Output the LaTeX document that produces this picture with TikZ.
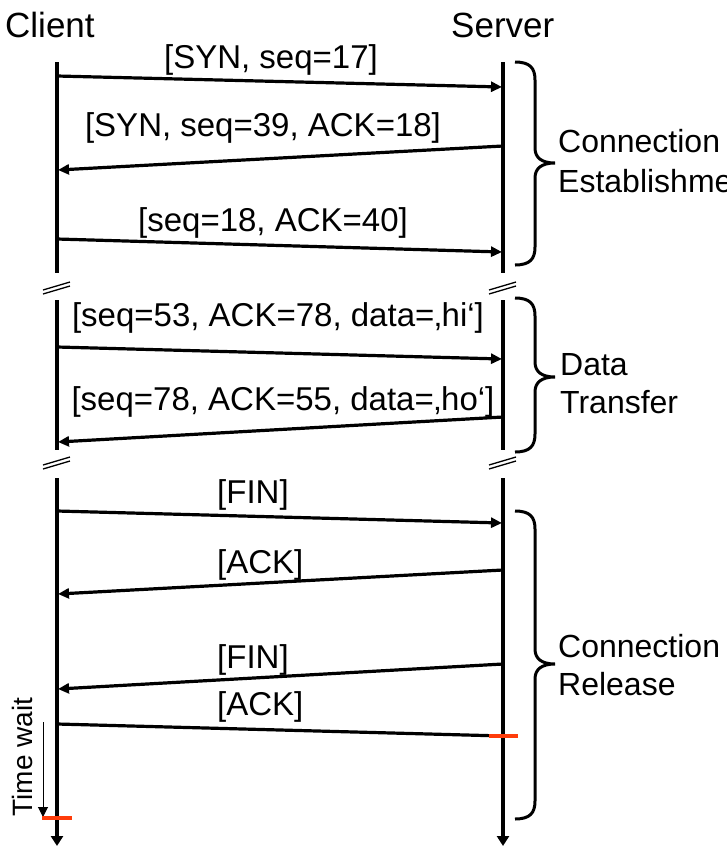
\documentclass[tikz,border=0pt]{standalone}
\usepackage{fontspec}
\setmainfont{Liberation Sans}
\usetikzlibrary{arrows.meta}
\definecolor{markred}{HTML}{FF3C0A}
\newcommand{\grpbrace}[3]{%
  \draw[bracestyle] (515,#1) .. controls (530,#1) and (535,{#1+6}) .. (535,{#1+18})
    -- (535,{#2-15}) .. controls (535,{#2-5}) and (542,#2) .. (555,#2)
    .. controls (542,#2) and (535,{#2+5}) .. (535,{#2+15})
    -- (535,{#3-18}) .. controls (535,{#3-6}) and (530,#3) .. (515,#3);}
\begin{document}
\begin{tikzpicture}[x=1pt,y=-1pt,
  life/.style={line width=3.2pt},
  lifeend/.style={line width=3.2pt,-{Triangle[length=10pt,width=12pt]}},
  msg/.style={line width=3.2pt,-{Triangle[length=11pt,width=10pt]}},
  msgplain/.style={line width=3.2pt},
  lbl/.style={font=\fontsize{33}{38}\selectfont, inner sep=0pt, anchor=base},
  lblw/.style={font=\fontsize{33}{38}\selectfont, inner sep=0pt, anchor=base west},
  hdr/.style={font=\fontsize{35}{40}\selectfont, inner sep=0pt, anchor=base west},
  grp/.style={font=\fontsize{32}{38}\selectfont, inner sep=0pt, anchor=base west},
  brk/.style={line width=1.3pt},
  bracestyle/.style={line width=3pt},
  endmark/.style={line width=3.5pt, draw=markred}]
\useasboundingbox (0,0) rectangle (727,847);

% headers
\node[hdr] (client) at (5,37) {Client};
\node[hdr] (server) at (451,37) {Server};

% lifeline coordinates
\foreach \n/\x in {c/57, s/503} {
  \coordinate (\n T1) at (\x,62);
  \coordinate (\n B1) at (\x,273);
  \coordinate (\n T2) at (\x,300);
  \coordinate (\n B2) at (\x,450);
  \coordinate (\n T3) at (\x,478);
  \coordinate (\n E) at (\x,846);
}
\draw[life] (cT1) -- (cB1);
\draw[life] (cT2) -- (cB2);
\draw[lifeend] (cT3) -- (cE);
\draw[life] (sT1) -- (sB1);
\draw[life] (sT2) -- (sB2);
\draw[lifeend] (sT3) -- (sE);

% break marks
\foreach \x in {0,446} {
  \foreach \y in {0,175} {
    \draw[brk] ({43+\x},{290+\y}) -- ({70+\x},{282+\y});
    \draw[brk] ({43+\x},{294+\y}) -- ({70+\x},{286+\y});
  }
}

% message end points
\coordinate (m1a) at (57,76);  \coordinate (m1b) at (502,87);
\coordinate (m2a) at (503,146); \coordinate (m2b) at (58,170);
\coordinate (m3a) at (57,239); \coordinate (m3b) at (502,252);
\coordinate (m4a) at (57,347); \coordinate (m4b) at (502,359);
\coordinate (m5a) at (503,417); \coordinate (m5b) at (58,442);
\coordinate (m6a) at (57,511); \coordinate (m6b) at (502,523);
\coordinate (m7a) at (503,570); \coordinate (m7b) at (58,594);
\coordinate (m8a) at (503,664); \coordinate (m8b) at (58,689);
\coordinate (m9a) at (57,724); \coordinate (m9b) at (503,736);

\draw[msg] (m1a) -- (m1b);
\draw[msg] (m2a) -- (m2b);
\draw[msg] (m3a) -- (m3b);
\draw[msg] (m4a) -- (m4b);
\draw[msg] (m5a) -- (m5b);
\draw[msg] (m6a) -- (m6b);
\draw[msg] (m7a) -- (m7b);
\draw[msg] (m8a) -- (m8b);
\draw[msgplain] (m9a) -- (m9b);

% labels
\node[lbl] (l1) at (271,68) {[SYN, seq=17]};
\node[lbl] (l2) at (263,136) {[SYN, seq=39, ACK=18]};
\node[lbl] (l3) at (273,231) {[seq=18, ACK=40]};
\node[lbl] (l4) at (278,326) {[seq=53, ACK=78, data=‚hi‘]};
\node[lbl] (l5) at (283,410) {[seq=78, ACK=55, data=‚ho‘]};
\node[lblw] (l6) at (217,503) {[FIN]};
\node[lblw] (l7) at (217,573) {[ACK]};
\node[lblw] (l8) at (217,668) {[FIN]};
\node[lblw] (l9) at (217,715) {[ACK]};

% braces and group labels
\grpbrace{62}{163}{265}
\grpbrace{298}{377}{452}
\grpbrace{511}{664}{819}
\node[grp] (g1a) at (558,152) {Connection};
\node[grp] (g1b) at (558,192) {Establishment};
\node[grp] (g2a) at (560,375) {Data};
\node[grp] (g2b) at (560,413) {Transfer};
\node[grp] (g3a) at (558,657) {Connection};
\node[grp] (g3b) at (558,695) {Release};

% time wait
\node[font=\fontsize{28}{30}\selectfont, rotate=90, inner sep=0pt] (tw) at (22,757) {Time wait};
\coordinate (twA) at (43,722);
\coordinate (twB) at (43,817);
\draw[line width=1pt,-{Triangle[length=10pt,width=10pt]}] (twA) -- (twB);

% end marks
\coordinate (rs1) at (489,736); \coordinate (rs2) at (518,736);
\coordinate (rc1) at (42,818); \coordinate (rc2) at (72,818);
\draw[endmark] (rs1) -- (rs2);
\draw[endmark] (rc1) -- (rc2);
\end{tikzpicture}
\end{document}
